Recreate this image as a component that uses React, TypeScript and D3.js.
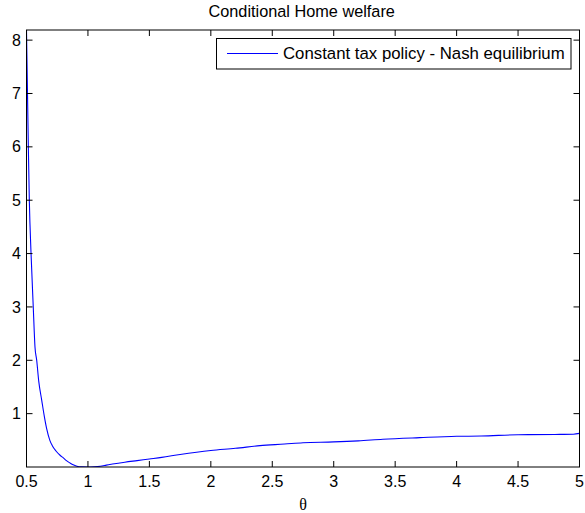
import React from "react";
import * as d3 from "d3";

const theta = [0.5, 0.515, 0.523, 0.537, 0.555, 0.569, 0.583, 0.6, 0.624, 0.645, 0.664, 0.69, 0.71, 0.74, 0.773, 0.8, 0.825, 0.854, 0.88, 0.91, 0.95, 1.0, 1.05, 1.1, 1.15, 1.2, 1.3, 1.4, 1.5, 1.6, 1.75, 2.0, 2.2, 2.4, 2.6, 2.75, 3.0, 3.2, 3.4, 3.7, 4.0, 4.2, 4.5, 4.8, 4.95, 5.0];
const welfare = [8.19, 6.0, 5.0, 4.0, 3.0, 2.25, 2.0, 1.6, 1.25, 0.95, 0.72, 0.5, 0.4, 0.3, 0.22, 0.17, 0.12, 0.075, 0.04, 0.015, 0.003, 0.0, 0.005, 0.015, 0.035, 0.055, 0.09, 0.12, 0.15, 0.18, 0.235, 0.31, 0.35, 0.4, 0.43, 0.455, 0.47, 0.49, 0.52, 0.55, 0.575, 0.58, 0.605, 0.61, 0.615, 0.63];
const xTicks = [0.5, 1, 1.5, 2, 2.5, 3, 3.5, 4, 4.5, 5];
const yTicks = [1, 2, 3, 4, 5, 6, 7, 8];
const titleText = "Conditional Home welfare";
const legendText = "Constant tax policy - Nash equilibrium";
const xLabel = "θ";

export default function App() {
  const W = 585, H = 513;
  const left = 26.5, right = 579.5, top = 30, bottom = 467;
  const x = d3.scaleLinear().domain([0.5, 5]).range([left, right]);
  const y = d3.scaleLinear().domain([0, 8.19]).range([bottom, top]);
  const line = d3.line<number>().x((_, i) => x(theta[i])).y((d) => y(d)).curve(d3.curveMonotoneX);
  const sans = "Liberation Sans, Arial, sans-serif";
  const tl = 6;
  return (
    <svg width={W} height={H} style={{ position: "absolute", left: 0, top: 0, background: "#fff" }}>
      <rect x={0} y={0} width={W} height={H} fill="#fff" />
      <defs>
        <clipPath id="clip"><rect x={left} y={top} width={right - left} height={bottom - top} /></clipPath>
      </defs>
      <path d={line(welfare) || ""} fill="none" stroke="#0000ff" strokeWidth={1.1} clipPath="url(#clip)" />
      <rect x={left} y={top} width={right - left} height={bottom - top} fill="none" stroke="#000" strokeWidth={1} />
      {xTicks.map((t) => (
        <g key={"x" + t}>
          <line x1={x(t)} x2={x(t)} y1={bottom} y2={bottom - tl} stroke="#000" />
          <line x1={x(t)} x2={x(t)} y1={top} y2={top + tl} stroke="#000" />
          <text x={x(t)} y={487} textAnchor="middle" fontFamily={sans} fontSize={16}>{t}</text>
        </g>
      ))}
      {yTicks.map((t) => (
        <g key={"y" + t}>
          <line x1={left} x2={left + tl} y1={y(t)} y2={y(t)} stroke="#000" />
          <line x1={right} x2={right - tl} y1={y(t)} y2={y(t)} stroke="#000" />
          <text x={21} y={y(t) + 5.6} textAnchor="end" fontFamily={sans} fontSize={16}>{t}</text>
        </g>
      ))}
      <text x={301.7} y={16.7} textAnchor="middle" fontFamily={sans} fontSize={16.3}>{titleText}</text>
      <text x={(left + right) / 2} y={510} textAnchor="middle" fontFamily="Liberation Serif, Times New Roman, serif" fontSize={16}>{xLabel}</text>
      <g>
        <rect x={216.5} y={38.5} width={354.5} height={30.5} fill="#fff" stroke="#000" strokeWidth={1} />
        <line x1={227} x2={278} y1={53.5} y2={53.5} stroke="#0000ff" strokeWidth={1.1} />
        <text x={283} y={58.7} fontFamily={sans} fontSize={16.8}>{legendText}</text>
      </g>
    </svg>
  );
}
